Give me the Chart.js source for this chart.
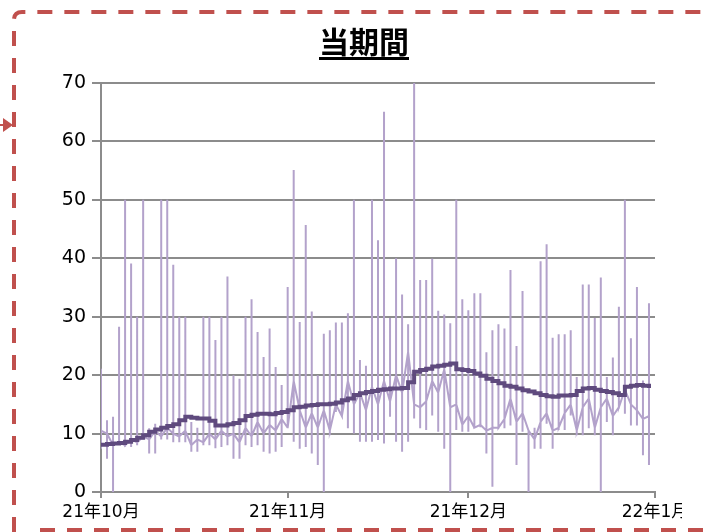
<!DOCTYPE html>
<html lang="ja">
<head>
    <meta charset="UTF-8">
    <title>当期間</title>
    <script src="https://cdn.jsdelivr.net/npm/chart.js@4.4.1/dist/chart.umd.min.js"></script>
    <style>
        html, body { margin: 0; padding: 0; background: #fff; }
        body { width: 705px; height: 532px; position: relative; overflow: hidden; }
        #frame { position: absolute; left: 0; top: 0; }
        #title {
            position: absolute; left: 0; width: 728px; top: 22px; text-align: center;
            font-family: "Noto Sans CJK JP", sans-serif; font-weight: bold; font-size: 30px;
            text-decoration: underline; text-decoration-thickness: 3px; text-underline-offset: 4px;
            color: #000; line-height: 36px;
        }
        #wrap { position: absolute; left: 0; top: 0; width: 682px; height: 532px; overflow: hidden; }
    </style>
</head>
<body>
<svg id="frame" width="705" height="532">
    <path d="M14 532 L14 20 Q14 12 22 12 L720 12" fill="none" stroke="#c0504d" stroke-width="4" stroke-dasharray="15 12"/>
    <path d="M40 530 L720 530" fill="none" stroke="#c0504d" stroke-width="4" stroke-dasharray="15 12"/>
    <path d="M0 125 L6 125" stroke="#c0504d" stroke-width="2"/>
    <polygon points="3,118 13,125 3,132" fill="#c0504d"/>
</svg>
<div id="wrap"><canvas id="mychart" width="705" height="532"></canvas></div>
<div id="title">当期間</div>
<script>
    // day 0 = 2021-10-01, day 92 = 2022-01-01
    const tickDays = [0, 31, 61, 92];
    const tickLabels = ['21年10月', '21年11月', '21年12月', '22年1月'];

    // daily max of the raw series
    const dayHigh = [21.1, 12.3, 12.9, 28.3, 50, 39.1, 30, 50, 10.9, 11.7,
        50, 50, 38.9, 30, 30, 12, 11, 30, 30, 26,
        30, 36.9, 20, 19.4, 30, 33, 27.4, 23.1, 28, 21.4,
        18.3, 35.1, 55.1, 29.1, 45.7, 30.9, 20, 27.1, 27.7, 29,
        29, 30.6, 50, 22.6, 21.6, 50, 43.1, 65.1, 29.8, 40,
        33.8, 28.7, 70, 36.3, 36.3, 39.9, 31, 30.4, 28.9, 50,
        33, 31.1, 34, 34, 23.9, 27.7, 28.7, 28, 38, 25,
        34.4, 10.6, 11, 39.5, 42.4, 26.4, 27, 27, 27.7, 19.7,
        35.5, 35.5, 29.8, 36.7, 19.7, 23, 31.7, 50, 26.3, 35.1,
        19.1, 32.3];
    // daily min of the raw series
    const dayLow = [7.4, 5.7, 0, 9, 9, 7.7, 8, 9, 6.6, 6.6,
        9, 9, 8.5, 8.5, 8.5, 6.9, 6.9, 8, 8, 7.5,
        7.7, 8, 5.7, 5.7, 8, 7.7, 8, 6.9, 6.6, 6.9,
        7.7, 10.9, 8.6, 7.4, 7.7, 6.6, 4.6, 0, 9.7, 13.7,
        14.3, 10.9, 10, 8.6, 8.6, 8.6, 8.9, 8.3, 12.9, 8.6,
        6.9, 8.6, 12.6, 10.9, 10.6, 13.1, 10.3, 7.4, 0, 10.6,
        10.3, 10.3, 10.9, 11.1, 6.6, 0.9, 11.4, 10.9, 11.4, 4.6,
        10.3, 0, 7.4, 7.4, 11.7, 7.4, 10.6, 10.6, 13.1, 9.7,
        9.7, 10.9, 9.7, 0, 12, 9.7, 14.3, 13.4, 11.4, 11.4,
        6.3, 4.6];
    // typical value the raw line passes between days
    const dayLevel = [10.5, 10, 8, 8.5, 8, 9, 8.5, 9.5, 9, 10.5,
        9.5, 11, 10, 9.5, 10.5, 8, 9, 8.5, 10, 9,
        10.5, 9.5, 10, 8.5, 11, 9.5, 12, 10, 11.5, 10.5,
        12.5, 11, 19, 14, 11, 13.5, 11, 14, 10.5, 15,
        13, 19, 15, 17, 14, 18, 15, 19, 15.5, 20,
        17, 24, 15, 14.5, 15.5, 19, 17, 21, 14.5, 15,
        11.5, 13, 11, 11.5, 10.5, 11, 11, 12.5, 16, 12,
        13.5, 10.5, 9, 12, 13.5, 10.5, 11, 13.5, 15, 10.5,
        14.5, 16, 11, 14.5, 16, 13, 14.5, 17.5, 15, 14,
        12.5, 13];
    // running average
    const dayAvg = [8.1, 8.2, 8.3, 8.4, 8.6, 8.9, 9.3, 9.7, 10.3, 10.7,
        11, 11.3, 11.6, 12.3, 12.9, 12.7, 12.6, 12.6, 12.2, 11.4,
        11.4, 11.6, 11.8, 12.3, 13, 13.2, 13.4, 13.4, 13.3, 13.5,
        13.7, 14, 14.5, 14.6, 14.8, 14.9, 15, 15, 15.1, 15.3,
        15.7, 16, 16.6, 16.9, 17.1, 17.3, 17.5, 17.6, 17.7, 17.7,
        17.8, 18.8, 20.6, 20.9, 21.1, 21.5, 21.6, 21.8, 22, 21,
        20.9, 20.7, 20.3, 19.9, 19.4, 19, 18.6, 18.2, 18, 17.7,
        17.4, 17.2, 16.9, 16.6, 16.4, 16.3, 16.5, 16.5, 16.6, 17.3,
        17.7, 17.8, 17.5, 17.3, 17.1, 16.9, 16.6, 18, 18.2, 18.3,
        18.2, 17.8];

    const rawPoints = [];
    dayLevel.forEach((lv, d) => {
        rawPoints.push({x: d, y: lv}, {x: d, y: dayHigh[d]}, {x: d, y: dayLow[d]}, {x: d, y: lv});
    });
    const avgPoints = dayAvg.map((v, d) => ({x: d, y: v}));

    const gridGray = '#8c8c8c';
    const ctx = document.getElementById('mychart').getContext('2d');
    const myChart = new Chart(ctx, {
        type: 'line',
        data: {
            datasets: [{
                data: avgPoints,
                borderColor: '#5f4a7e',
                borderWidth: 4,
                pointRadius: 0,
                stepped: true,
                order: 0
            }, {
                data: rawPoints,
                borderColor: '#b3a2cb',
                borderWidth: 2,
                pointRadius: 0,
                order: 1
            }]
        },
        options: {
            responsive: false,
            animation: false,
            devicePixelRatio: 1,
            layout: { padding: { left: 40, top: 83, right: 50, bottom: 0 } },
            plugins: { legend: { display: false }, tooltip: { enabled: false } },
            scales: {
                x: {
                    type: 'linear',
                    min: 0,
                    max: 92,
                    afterBuildTicks: scale => { scale.ticks = tickDays.map(v => ({value: v})); },
                    afterFit: scale => { scale.height = 40; },
                    ticks: {
                        autoSkip: false,
                        maxRotation: 0,
                        padding: 4,
                        color: '#000',
                        font: { family: '"DejaVu Sans", "Noto Sans CJK JP"', size: 17 },
                        callback: v => tickLabels[tickDays.indexOf(v)]
                    },
                    grid: { drawOnChartArea: false, tickLength: 6, color: gridGray, lineWidth: 2 },
                    border: { color: gridGray, width: 2 }
                },
                y: {
                    min: 0,
                    max: 70,
                    afterFit: scale => { scale.width = 61; },
                    ticks: {
                        stepSize: 10,
                        padding: 6,
                        color: '#000',
                        font: { family: '"DejaVu Sans"', size: 19 }
                    },
                    grid: { color: gridGray, lineWidth: 2, tickLength: 9 },
                    border: { color: gridGray, width: 2 }
                }
            }
        }
    });
</script>
</body>
</html>
